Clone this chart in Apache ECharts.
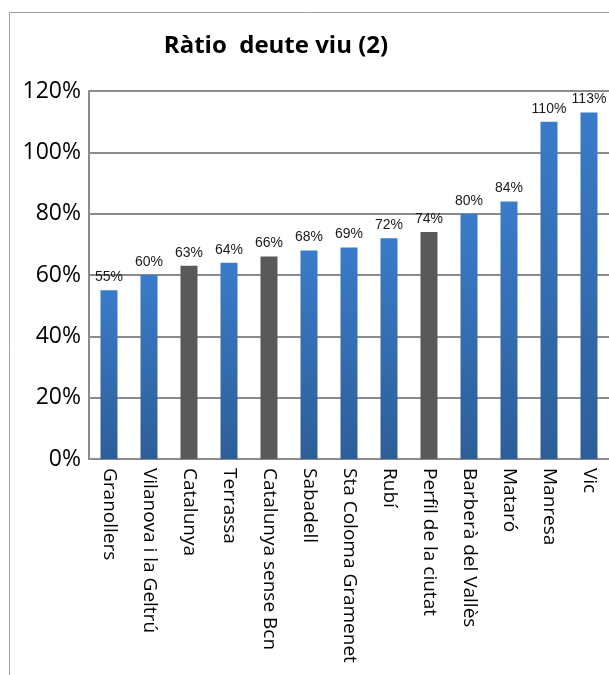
<!DOCTYPE html>
<html>
<head>
<meta charset="utf-8">
<script src="https://cdn.jsdelivr.net/npm/echarts@6/dist/echarts.min.js"></script>
<style>
  html, body { margin: 0; padding: 0; background: #fff; }
  #main { width: 609px; height: 675px; }
</style>
</head>
<body>
<div id="main"></div>
<script type="text/javascript">
    var categories = ['Granollers', 'Vilanova i la Geltrú', 'Catalunya', 'Terrassa', 'Catalunya sense Bcn',
        'Sabadell', 'Sta Coloma Gramenet', 'Rubí', 'Perfil de la ciutat', 'Barberà del Vallès',
        'Mataró', 'Manresa', 'Vic'];
    var values = [55, 60, 63, 64, 66, 68, 69, 72, 74, 80, 84, 110, 113];
    var grayBars = ['Catalunya', 'Catalunya sense Bcn', 'Perfil de la ciutat'];

    var blue = new echarts.graphic.LinearGradient(0, 0, 0, 1, [
        { offset: 0, color: '#3a7bc9' },
        { offset: 1, color: '#2d5e98' }
    ]);

    var myChart = echarts.init(document.getElementById('main'));

    var option = {
        backgroundColor: '#fff',
        animation: false,
        graphic: [{
            type: 'rect',
            shape: { x: 9.5, y: 12.5, width: 640, height: 700 },
            style: { fill: 'none', stroke: '#a0a0a0', lineWidth: 1 }
        }],
        title: {
            text: 'Ràtio  deute viu (2)',
            left: 271,
            top: 29,
            textAlign: 'center',
            textStyle: {
                fontFamily: 'Open Sans',
                fontWeight: 'bold',
                fontSize: 24,
                color: '#000'
            }
        },
        grid: {
            left: 89,
            top: 91,
            width: 520,
            height: 368
        },
        xAxis: {
            type: 'category',
            data: categories,
            axisLine: { lineStyle: { color: '#8c8c8c', width: 2 } },
            axisTick: { show: false },
            axisLabel: {
                rotate: -90,
                interval: 0,
                margin: 9,
                fontFamily: 'Open Sans',
                fontSize: 19,
                color: '#000'
            }
        },
        yAxis: {
            type: 'value',
            min: 0,
            max: 120,
            interval: 20,
            axisLine: { show: true, lineStyle: { color: '#8c8c8c', width: 2 } },
            axisTick: { show: false },
            splitLine: { lineStyle: { color: '#8c8c8c', width: 2 } },
            axisLabel: {
                formatter: '{value}%',
                margin: 8,
                fontFamily: 'Open Sans',
                fontSize: 23,
                color: '#000'
            }
        },
        series: [{
            type: 'bar',
            barWidth: 17,
            data: values.map(function (v, i) {
                return {
                    value: v,
                    itemStyle: { color: grayBars.indexOf(categories[i]) >= 0 ? '#595959' : blue }
                };
            }),
            label: {
                show: true,
                position: 'top',
                distance: 6,
                formatter: '{c}%',
                fontFamily: 'Liberation Sans',
                fontSize: 14,
                color: '#1a1a1a'
            }
        }]
    };
    myChart.setOption(option);
</script>
</body>
</html>
